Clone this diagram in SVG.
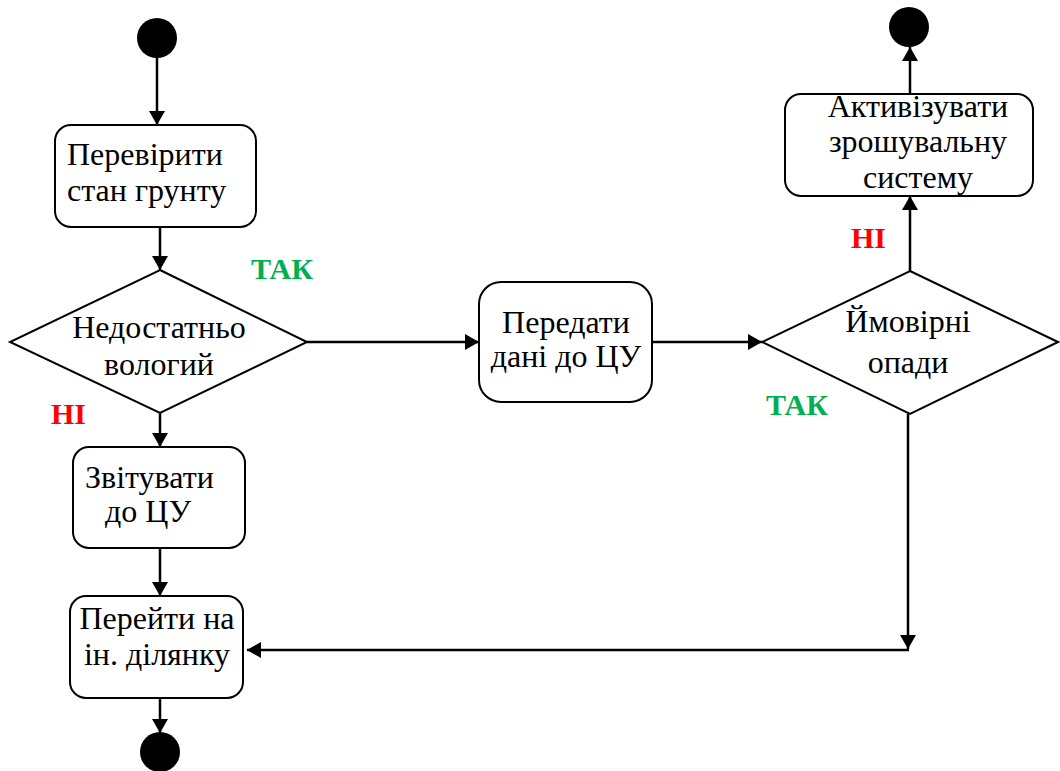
<svg xmlns="http://www.w3.org/2000/svg" width="1060" height="771" viewBox="0 0 1060 771">
  <style>
    .node { fill: #ffffff; stroke: #000000; stroke-width: 2; }
    .dot { fill: #000000; }
    .lbl { font-family: "Liberation Serif", "Times New Roman", "DejaVu Serif", serif; font-size: 32px; fill: #000000; }
    .c { text-anchor: middle; }
    .yes { font-family: "Liberation Serif", "Times New Roman", "DejaVu Serif", serif; font-size: 30px; font-weight: bold; fill: #00B050; }
    .no { font-family: "Liberation Serif", "Times New Roman", "DejaVu Serif", serif; font-size: 30px; font-weight: bold; fill: #FF0000; }
    .edge { fill: none; stroke: #000000; stroke-width: 2.5; marker-end: url(#arrow); }
  </style>
  <defs>
    <marker id="arrow" viewBox="0 0 14 16" refX="14" refY="8" markerWidth="14" markerHeight="16" markerUnits="userSpaceOnUse" orient="auto">
      <path d="M0,0 L14,8 L0,16 Z" fill="#000000"/>
    </marker>
  </defs>

  <rect width="1060" height="771" fill="#ffffff"/>

  <!-- connectors -->
  <g id="connectors">
    <line class="edge" x1="157" y1="58" x2="157" y2="125"/>
    <line class="edge" x1="160" y1="227" x2="160" y2="270"/>
    <line class="edge" x1="307" y1="342" x2="479" y2="342"/>
    <line class="edge" x1="160" y1="413" x2="160" y2="447"/>
    <line class="edge" x1="160" y1="548" x2="160" y2="596"/>
    <line class="edge" x1="160" y1="698" x2="160" y2="733"/>
    <line class="edge" x1="652" y1="342" x2="762" y2="342"/>
    <line class="edge" x1="910" y1="271" x2="910" y2="196"/>
    <line class="edge" x1="910" y1="94" x2="910" y2="47"/>
    <line class="edge" x1="908" y1="414" x2="908" y2="649"/>
    <line class="edge" x1="909" y1="650" x2="247" y2="650"/>
  </g>

  <!-- start / end points -->
  <g id="start"><circle class="dot" cx="157" cy="38" r="20"/></g>
  <g id="end-left"><circle class="dot" cx="160" cy="752" r="20"/></g>
  <g id="end-right"><circle class="dot" cx="909" cy="27" r="20"/></g>

  <g id="check-soil">
    <rect class="node" x="55" y="125" width="201" height="102" rx="16"/>
    <text class="lbl" x="67" y="165">Перевірити</text>
    <text class="lbl" x="67" y="201">стан грунту</text>
  </g>

  <g id="dry-decision">
    <polygon class="node" points="160,270 307,342 160,413 10,342"/>
    <text class="lbl c" x="159" y="338">Недостатньо</text>
    <text class="lbl c" x="159" y="375">вологий</text>
  </g>

  <g id="report">
    <rect class="node" x="73" y="447" width="172" height="101" rx="16"/>
    <text class="lbl" x="85" y="488">Звітувати</text>
    <text class="lbl" x="105" y="522">до ЦУ</text>
  </g>

  <g id="move-on">
    <rect class="node" x="70" y="596" width="173" height="102" rx="16"/>
    <text class="lbl c" x="157" y="629">Перейти на</text>
    <text class="lbl c" x="157" y="665">ін. ділянку</text>
  </g>

  <g id="send-data">
    <rect class="node" x="479" y="282" width="173" height="120" rx="22"/>
    <text class="lbl c" x="566" y="333">Передати</text>
    <text class="lbl c" x="566" y="367">дані до ЦУ</text>
  </g>

  <g id="rain-decision">
    <polygon class="node" points="910,271 1058,342 910,414 762,342"/>
    <text class="lbl c" x="908" y="332">Ймовірні</text>
    <text class="lbl c" x="908" y="373">опади</text>
  </g>

  <g id="irrigate">
    <rect class="node" x="785" y="94" width="248" height="102" rx="16"/>
    <text class="lbl c" x="918" y="117">Активізувати</text>
    <text class="lbl c" x="918" y="152">зрошувальну</text>
    <text class="lbl c" x="918" y="188">систему</text>
  </g>

  <!-- branch labels -->
  <g id="branch-labels">
    <text class="yes" x="251" y="279">ТАК</text>
    <text class="no" x="51" y="424">НІ</text>
    <text class="yes" x="766" y="415">ТАК</text>
    <text class="no" x="851" y="248">НІ</text>
  </g>
</svg>
